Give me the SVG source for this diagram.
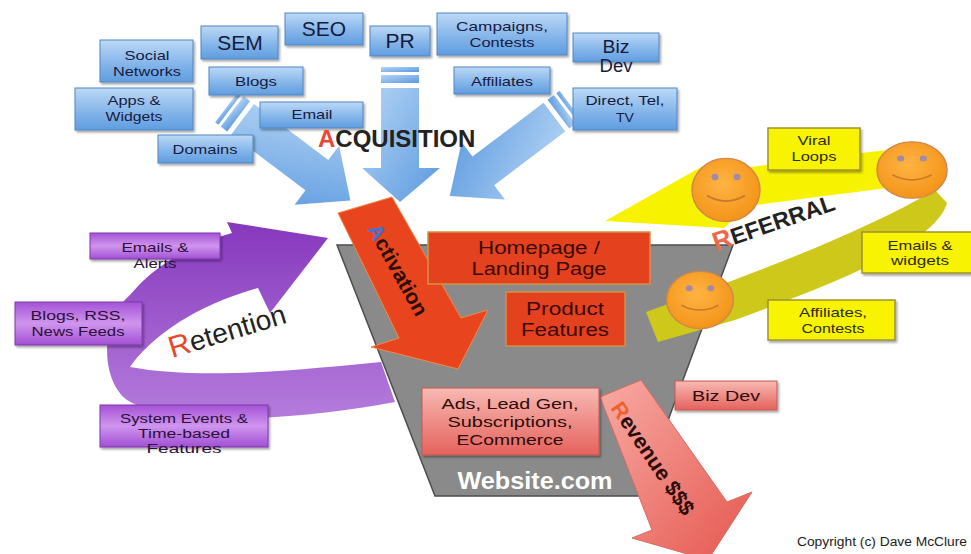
<svg xmlns="http://www.w3.org/2000/svg" width="971" height="554" viewBox="0 0 971 554">
<defs>
  <linearGradient id="gBlueBox" x1="0" y1="0" x2="0" y2="1">
    <stop offset="0" stop-color="#bcd9f6"/><stop offset="0.55" stop-color="#86b6ea"/><stop offset="1" stop-color="#5f9de0"/>
  </linearGradient>
  <linearGradient id="gBlueArrow" x1="0" y1="0" x2="1" y2="1">
    <stop offset="0" stop-color="#b5d5f5"/><stop offset="1" stop-color="#5b99df"/>
  </linearGradient>
  <linearGradient id="gPurpleBox" x1="0" y1="0" x2="0" y2="1">
    <stop offset="0" stop-color="#a552d6"/><stop offset="0.5" stop-color="#cf95ee"/><stop offset="1" stop-color="#a24fd4"/>
  </linearGradient>
  <linearGradient id="gPurpleArrow" x1="0" y1="0" x2="0" y2="1">
    <stop offset="0" stop-color="#8638bd"/><stop offset="1" stop-color="#b57cdc"/>
  </linearGradient>
  <linearGradient id="gSalmon" x1="0" y1="0" x2="0" y2="1">
    <stop offset="0" stop-color="#f8b9b3"/><stop offset="1" stop-color="#e5625c"/>
  </linearGradient>
  <linearGradient id="gRevenue" x1="0" y1="0" x2="1" y2="1">
    <stop offset="0" stop-color="#f7aaa3"/><stop offset="1" stop-color="#e5574f"/>
  </linearGradient>
  <radialGradient id="gFace" cx="0.45" cy="0.4" r="0.6">
    <stop offset="0" stop-color="#ffb444"/><stop offset="1" stop-color="#f39419"/>
  </radialGradient>
  <filter id="shadow" x="-10%" y="-15%" width="125%" height="145%">
    <feDropShadow dx="1.5" dy="2" stdDeviation="1.3" flood-color="#000" flood-opacity="0.35"/>
  </filter>
  <g id="face">
    <circle r="34" fill="url(#gFace)" stroke="#d0884a" stroke-width="1.5"/>
    <circle cx="-11" cy="-14" r="3.5" fill="#a48aa6"/>
    <circle cx="11" cy="-14" r="3.5" fill="#a48aa6"/>
    <path d="M-19,6 Q0,18 19,6" fill="none" stroke="#c77828" stroke-width="1.8"/>
  </g>
</defs>
<style>
  text{font-family:"Liberation Sans",Arial,Helvetica,sans-serif}
  .c{text-anchor:middle}
  .bbox{fill:url(#gBlueBox);stroke:#5285c2;stroke-width:1;filter:url(#shadow)}
  .btxt{fill:#171a3d;font-size:13.5px}
  .big{font-size:21px}
  .mid{font-size:18px}
  .pbox{fill:url(#gPurpleBox);stroke:#7d3aa8;stroke-width:1;filter:url(#shadow)}
  .ptxt{fill:#2b0f38;font-size:13.5px}
  .stx{font-size:12.5px}
  .rbox{fill:#e4421f;stroke:#d98e45;stroke-width:1.5}
  .rtxt{fill:#3a0800;font-size:17.5px}
  .sbox{fill:url(#gSalmon);stroke:#c45a55;stroke-width:1;filter:url(#shadow)}
  .stxt{fill:#2d0b08;font-size:15.5px}
  .ybox{fill:#f8f300;stroke:#9f9332;stroke-width:1.5;filter:url(#shadow)}
  .ytxt{fill:#2b2b10;font-size:13.5px}
  .barrow{fill:url(#gBlueArrow)}
</style>
<rect width="971" height="554" fill="#ffffff"/>

<!-- retention loop arrow -->
<path id="retention-arrow" d="M328,238 L270,313 L258,288 C215,300 160,325 130,367 C200,380 300,370 381,362 L395,402 C300,420 170,428 127,400 C100,380 100,320 130,295 C155,265 190,245 232,233 L227,222 Z" fill="url(#gPurpleArrow)"/>

<!-- funnel -->
<g id="funnel">
  <polygon points="337,245 733,245 640,496 435,496" fill="#8a8a8a" stroke="#4d4d4d" stroke-width="1.5"/>
  <text x="535" y="489" class="c" font-weight="bold" font-size="23" fill="#ffffff" textLength="155" lengthAdjust="spacingAndGlyphs">Website.com</text>
</g>

<!-- referral loop -->
<g id="referral-loop">
  <path d="M646,312 C720,285 850,240 935,190 L947,203 C935,245 830,285 735,320 L658,342 Z" fill="#cdc81a"/>
  <path d="M888,150 C840,155 790,162 742,168 L703,166 L605,221 L724,228 L748,206 C795,200 845,193 888,188 Z" fill="#f7f200"/>
</g>

<g id="connectors">
  <!-- acquisition arrows -->
  <g transform="translate(237,115) rotate(37)" class="barrow">
    <rect x="-13" y="-19" width="4" height="38"/>
    <rect x="-6" y="-19" width="8" height="38"/>
    <polygon points="7,-19 100,-19 100,-37 142,0 100,37 100,19 7,19"/>
  </g>
  <g class="barrow">
    <rect x="381" y="67" width="38" height="5"/>
    <rect x="381" y="75" width="38" height="8"/>
    <polygon points="381,88 419,88 419,168 440,168 400,202 362,168 381,168"/>
  </g>
  <g transform="translate(560,113) rotate(143)" class="barrow">
    <rect x="-13" y="-18" width="4" height="36"/>
    <rect x="-6" y="-18" width="8" height="36"/>
    <polygon points="7,-18 96,-18 96,-36 138,0 96,36 96,18 7,18"/>
  </g>
  <!-- activation arrow -->
  <polygon id="activation-arrow" points="338,213 392,197 461,318 488,310 458,369 371,347 399,338" fill="#e8451f" stroke="#ef8a4a" stroke-width="1"/>
  <!-- revenue arrow -->
  <polygon id="revenue-arrow" points="600,397 641,380 727,502 752,492 708,560 632,538 652,530" fill="url(#gRevenue)" stroke="#d86a62" stroke-width="1"/>
</g>

<text transform="translate(367,229) rotate(61)" font-weight="bold" font-size="21" fill="#2a0c05"><tspan fill="#3d72d9">A</tspan>ctivation</text>
<text transform="translate(610,408) rotate(56)" font-weight="bold" font-size="21.5" fill="#2a0c08"><tspan fill="#f0602a">R</tspan>evenue $$$</text>

<!-- smileys -->
<use href="#face" transform="translate(726,190) scale(1,0.93)"/>
<use href="#face" transform="translate(912,170) scale(1.03,0.83)"/>
<use href="#face" transform="translate(700,300) scale(0.98,0.84)"/>

<!-- acquisition channels -->
<g id="social-networks"><rect class="bbox" x="100" y="40" width="93" height="42"/><text class="c btxt" x="147" y="60" textLength="45" lengthAdjust="spacingAndGlyphs">Social</text><text class="c btxt" x="147" y="76" textLength="68" lengthAdjust="spacingAndGlyphs">Networks</text></g>
<g id="apps-widgets"><rect class="bbox" x="75" y="88" width="118" height="42"/><text class="c btxt" x="134" y="105" textLength="53" lengthAdjust="spacingAndGlyphs">Apps &amp;</text><text class="c btxt" x="134" y="121" textLength="57" lengthAdjust="spacingAndGlyphs">Widgets</text></g>
<g id="sem"><rect class="bbox" x="201" y="26" width="77" height="33"/><text class="c btxt big" x="240" y="50">SEM</text></g>
<g id="seo"><rect class="bbox" x="285" y="13" width="78" height="32"/><text class="c btxt big" x="324" y="36">SEO</text></g>
<g id="pr"><rect class="bbox" x="370" y="26" width="60" height="30"/><text class="c btxt big" x="400" y="48">PR</text></g>
<g id="blogs"><rect class="bbox" x="209" y="67" width="94" height="28"/><text class="c btxt" x="256" y="86" textLength="42" lengthAdjust="spacingAndGlyphs">Blogs</text></g>
<g id="email"><rect class="bbox" x="260" y="102" width="103" height="26"/><text class="c btxt" x="312" y="119" textLength="41" lengthAdjust="spacingAndGlyphs">Email</text></g>
<g id="domains"><rect class="bbox" x="158" y="135" width="95" height="28"/><text class="c btxt" x="205" y="154" textLength="65" lengthAdjust="spacingAndGlyphs">Domains</text></g>
<g id="campaigns"><rect class="bbox" x="437" y="13" width="130" height="42"/><text class="c btxt" x="502" y="31" textLength="92" lengthAdjust="spacingAndGlyphs">Campaigns,</text><text class="c btxt" x="502" y="47" textLength="65" lengthAdjust="spacingAndGlyphs">Contests</text></g>
<g id="biz-dev-acq"><rect class="bbox" x="573" y="33" width="86" height="29"/><text class="c btxt mid" x="616" y="53" textLength="27" lengthAdjust="spacingAndGlyphs">Biz</text><text class="c btxt mid" x="616" y="72" textLength="33" lengthAdjust="spacingAndGlyphs">Dev</text></g>
<g id="affiliates"><rect class="bbox" x="454" y="67" width="96" height="27"/><text class="c btxt" x="502" y="86" textLength="62" lengthAdjust="spacingAndGlyphs">Affiliates</text></g>
<g id="direct"><rect class="bbox" x="573" y="88" width="104" height="42"/><text class="c btxt" x="625" y="105" textLength="79" lengthAdjust="spacingAndGlyphs">Direct, Tel,</text><text class="c btxt" x="625" y="122" textLength="18" lengthAdjust="spacingAndGlyphs">TV</text></g>

<!-- retention channels -->
<g id="emails-alerts"><rect class="pbox" x="90" y="233" width="130" height="26"/><text class="c ptxt" x="155" y="252" textLength="67" lengthAdjust="spacingAndGlyphs">Emails &amp;</text><text class="c ptxt" x="155" y="268" textLength="43" lengthAdjust="spacingAndGlyphs">Alerts</text></g>
<g id="blogs-rss"><rect class="pbox" x="15" y="302" width="127" height="43"/><text class="c ptxt" x="78" y="320" textLength="95" lengthAdjust="spacingAndGlyphs">Blogs, RSS,</text><text class="c ptxt" x="78" y="336" textLength="93" lengthAdjust="spacingAndGlyphs">News Feeds</text></g>
<g id="system-events"><rect class="pbox" x="100" y="405" width="168" height="42"/><text class="c ptxt stx" x="184" y="423" textLength="128" lengthAdjust="spacingAndGlyphs">System Events &amp;</text><text class="c ptxt stx" x="184" y="438" textLength="92" lengthAdjust="spacingAndGlyphs">Time-based</text><text class="c ptxt stx" x="184" y="453" textLength="75" lengthAdjust="spacingAndGlyphs">Features</text></g>

<!-- website stages -->
<g id="homepage"><rect class="rbox" x="428" y="232" width="222" height="52"/><text class="c rtxt" x="539" y="254" textLength="122" lengthAdjust="spacingAndGlyphs">Homepage /</text><text class="c rtxt" x="539" y="275" textLength="135" lengthAdjust="spacingAndGlyphs">Landing Page</text></g>
<g id="product-features"><rect class="rbox" x="506" y="292" width="119" height="54"/><text class="c rtxt" x="565" y="315" textLength="78" lengthAdjust="spacingAndGlyphs">Product</text><text class="c rtxt" x="565" y="336" textLength="88" lengthAdjust="spacingAndGlyphs">Features</text></g>
<g id="monetization"><rect class="sbox" x="422" y="388" width="177" height="67"/><text class="c stxt" x="510" y="409" textLength="137" lengthAdjust="spacingAndGlyphs">Ads, Lead Gen,</text><text class="c stxt" x="510" y="427" textLength="125" lengthAdjust="spacingAndGlyphs">Subscriptions,</text><text class="c stxt" x="510" y="445" textLength="107" lengthAdjust="spacingAndGlyphs">ECommerce</text></g>
<g id="biz-dev-rev"><rect class="sbox" x="675" y="381" width="102" height="29"/><text class="c stxt" x="726" y="401" textLength="68" lengthAdjust="spacingAndGlyphs">Biz Dev</text></g>

<!-- referral channels -->
<g id="viral-loops"><rect class="ybox" x="768" y="128" width="92" height="42"/><text class="c ytxt" x="814" y="145" textLength="33" lengthAdjust="spacingAndGlyphs">Viral</text><text class="c ytxt" x="814" y="161" textLength="45" lengthAdjust="spacingAndGlyphs">Loops</text></g>
<g id="emails-widgets"><rect class="ybox" x="862" y="232" width="115" height="41"/><text class="c ytxt" x="920" y="250" textLength="65" lengthAdjust="spacingAndGlyphs">Emails &amp;</text><text class="c ytxt" x="920" y="265" textLength="58" lengthAdjust="spacingAndGlyphs">widgets</text></g>
<g id="affiliates-contests"><rect class="ybox" x="768" y="300" width="127" height="40"/><text class="c ytxt" x="833" y="317" textLength="68" lengthAdjust="spacingAndGlyphs">Affiliates,</text><text class="c ytxt" x="833" y="333" textLength="63" lengthAdjust="spacingAndGlyphs">Contests</text></g>

<!-- stage titles -->
<text x="318" y="147" font-weight="bold" font-size="24" fill="#222"><tspan fill="#ea4636">A</tspan>CQUISITION</text>
<text transform="translate(172,358) rotate(-17)" font-size="28" fill="#222"><tspan fill="#e8452a" font-size="30">R</tspan>etention</text>
<text transform="translate(716,251) rotate(-19)" font-weight="bold" font-size="23" fill="#222"><tspan fill="#ef6a4a" font-size="26">R</tspan>EFERRAL</text>

<text x="967" y="546" font-size="12" text-anchor="end" fill="#222" textLength="170" lengthAdjust="spacingAndGlyphs">Copyright (c) Dave McClure</text>
</svg>
